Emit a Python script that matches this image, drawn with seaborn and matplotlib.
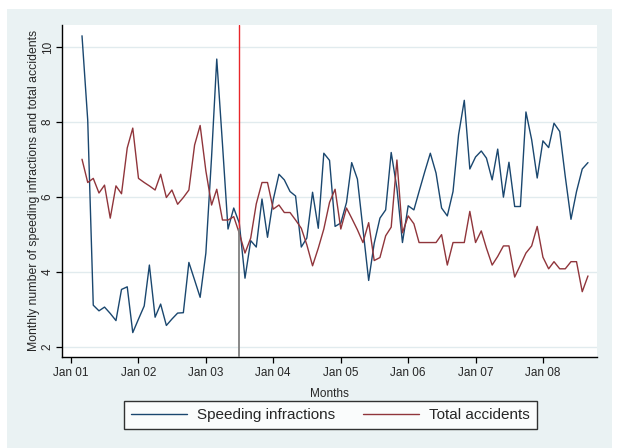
import matplotlib
matplotlib.use("Agg")
import matplotlib.pyplot as plt
import matplotlib.dates as mdates
from matplotlib.patches import Rectangle
import numpy as np
import pandas as pd
import seaborn as sns

# monthly values, Mar 2001 - Sep 2008
months = pd.date_range("2001-03-01", "2008-09-01", freq="MS")
speeding = [10.3, 8.05, 3.12, 2.97, 3.07, 2.90, 2.71, 3.54, 3.61, 2.39,
            2.75, 3.10, 4.19, 2.80, 3.15, 2.58, 2.75, 2.91, 2.92, 4.26,
            3.79, 3.33, 4.51, 7.08, 9.68, 7.41, 5.15, 5.71, 5.31, 3.84,
            4.84, 4.67, 5.95, 4.93, 5.93, 6.61, 6.46, 6.15, 6.03, 4.67,
            4.91, 6.13, 5.17, 7.17, 6.98, 5.22, 5.31, 5.86, 6.92, 6.48,
            5.15, 3.78, 4.77, 5.44, 5.66, 7.19, 6.24, 4.79, 5.77, 5.66,
            6.15, 6.68, 7.17, 6.64, 5.71, 5.50, 6.15, 7.66, 8.58, 6.75,
            7.07, 7.23, 7.04, 6.46, 7.28, 6.00, 6.93, 5.75, 5.75, 8.27,
            7.53, 6.51, 7.50, 7.32, 7.97, 7.75, 6.55, 5.41, 6.15, 6.75,
            6.92]
accidents = [7.01, 6.39, 6.50, 6.11, 6.32, 5.44, 6.30, 6.09, 7.31, 7.84,
             6.50, 6.39, 6.30, 6.19, 6.61, 5.99, 6.19, 5.81, 5.99, 6.19,
             7.39, 7.91, 6.70, 5.79, 6.21, 5.39, 5.39, 5.48, 5.04, 4.51,
             4.91, 5.82, 6.39, 6.39, 5.68, 5.79, 5.59, 5.59, 5.39, 5.17,
             4.73, 4.17, 4.64, 5.15, 5.86, 6.21, 5.15, 5.71, 5.44, 5.13,
             4.79, 5.32, 4.31, 4.39, 4.97, 5.20, 6.99, 5.05, 5.50, 5.29,
             4.79, 4.79, 4.79, 4.79, 5.00, 4.19, 4.79, 4.79, 4.79, 5.62,
             4.79, 5.10, 4.64, 4.19, 4.42, 4.70, 4.70, 3.87, 4.19, 4.51,
             4.70, 5.22, 4.40, 4.09, 4.28, 4.09, 4.09, 4.28, 4.28, 3.48,
             3.90]
series_names = ["Speeding infractions", "Total accidents"]
tick_years = list(range(2001, 2009))
y_ticks = [2, 4, 6, 8, 10]
break_date = pd.Timestamp("2003-06-27")

df = pd.DataFrame({
    "month": list(months) * 2,
    "value": speeding + accidents,
    "series": [series_names[0]] * len(months) + [series_names[1]] * len(months),
})

sns.set_style("white")
plt.rcParams["font.family"] = ["Liberation Sans", "DejaVu Sans"]

fig = plt.figure(figsize=(6.17, 4.48), dpi=100)
fig.patches.append(Rectangle((7 / 617, 0), 605 / 617, 439 / 448,
                             transform=fig.transFigure, facecolor="#EAF2F3",
                             edgecolor="none", zorder=-5))
ax = fig.add_axes([0.100, 0.204, 0.8676, 0.7404])
ax.set_zorder(2)
ax.set_facecolor("white")

sns.lineplot(data=df, x="month", y="value", hue="series",
             palette=["#1a476f", "#90353b"], linewidth=1.0, ax=ax)

ax.set_xlim(pd.Timestamp("2000-11-11"), pd.Timestamp("2008-10-20"))
ax.set_ylim(1.75, 10.59)

# policy change marker
ax.axvline(break_date, ymin=(5.15 - 1.75) / (10.59 - 1.75), ymax=1,
           color="#e8262a", linewidth=1.0, zorder=3)
ax.axvline(break_date, ymin=0, ymax=(5.15 - 1.75) / (10.59 - 1.75),
           color="#7f7f7f", linewidth=1.3, zorder=3)

ax.set_yticks(y_ticks)
ax.set_yticklabels([str(t) for t in y_ticks], rotation=90, va="center")
ax.set_xticks([pd.Timestamp(f"{y}-01-01") for y in tick_years])
ax.xaxis.set_major_formatter(mdates.DateFormatter("%b %y"))
ax.grid(axis="y", color="#E1EBEE", linewidth=1.0)
ax.set_axisbelow(True)

for s in ["top", "right"]:
    ax.spines[s].set_visible(False)
for s in ["left", "bottom"]:
    ax.spines[s].set_color("black")
    ax.spines[s].set_linewidth(1.0)
ax.tick_params(axis="both", direction="out", length=4.3, width=0.9,
               color="black", labelsize=8.5, left=True, bottom=True)
ax.tick_params(axis="y", pad=1.5)

ax.set_xlabel("Months", fontsize=8.5, labelpad=6)
ax.set_ylabel("Monthly number of speeding infractions and total accidents",
              fontsize=8.8, labelpad=1.5)

handles, labels = ax.get_legend_handles_labels()
ax.get_legend().remove()
leg = fig.legend(handles, labels, loc="center", bbox_to_anchor=(0.5357, 0.0737),
                 ncol=2, fontsize=11, frameon=True, fancybox=False,
                 edgecolor="black", handlelength=3.7, handletextpad=0.65,
                 columnspacing=1.8, borderpad=0.45)
leg.get_frame().set_linewidth(1.0)

fig.savefig("out.png", dpi=100, facecolor="white")
